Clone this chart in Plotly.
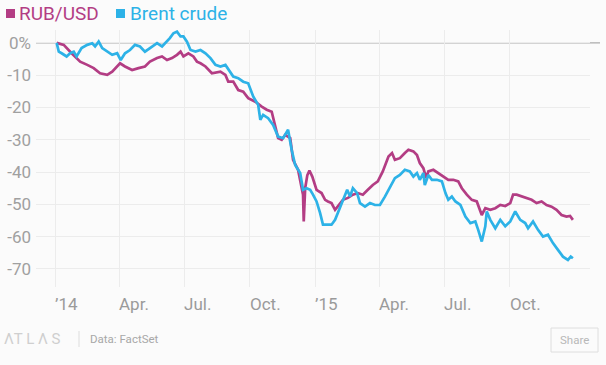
import plotly.graph_objects as go

# ---------------- data ----------------
rub_dates = ["2014-01-03","2014-01-13","2014-01-24","2014-02-05","2014-02-15","2014-02-24","2014-03-05","2014-03-15",
             "2014-03-22","2014-03-29","2014-04-02","2014-04-09","2014-04-19","2014-04-28","2014-05-07","2014-05-14",
             "2014-05-24","2014-05-31","2014-06-07","2014-06-14","2014-06-21","2014-06-26","2014-06-30","2014-07-07",
             "2014-07-14","2014-07-19","2014-07-24","2014-07-31","2014-08-09","2014-08-21","2014-08-28","2014-09-01",
             "2014-09-08","2014-09-15","2014-09-22","2014-09-29","2014-10-09","2014-10-18","2014-10-25","2014-11-01",
             "2014-11-06","2014-11-10","2014-11-15","2014-11-20","2014-11-27","2014-12-01","2014-12-08","2014-12-13",
             "2014-12-15","2014-12-16","2014-12-18","2014-12-21","2014-12-24","2014-12-28","2015-01-03","2015-01-10",
             "2015-01-15","2015-01-19","2015-01-24","2015-01-29","2015-02-02","2015-02-09","2015-02-16","2015-02-23",
             "2015-03-02","2015-03-09","2015-03-16","2015-03-23","2015-03-30","2015-04-06","2015-04-14","2015-04-19",
             "2015-04-23","2015-04-30","2015-05-07","2015-05-12","2015-05-19","2015-05-24","2015-05-28","2015-06-02",
             "2015-06-06","2015-06-09","2015-06-16","2015-06-23","2015-06-30","2015-07-07","2015-07-14","2015-07-21",
             "2015-07-26","2015-08-02","2015-08-09","2015-08-16","2015-08-23","2015-08-28","2015-09-04","2015-09-11",
             "2015-09-18","2015-09-25","2015-10-02","2015-10-06","2015-10-11","2015-10-18","2015-10-25","2015-11-01",
             "2015-11-08","2015-11-15","2015-11-22","2015-11-29","2015-12-06","2015-12-13","2015-12-20","2015-12-25",
             "2015-12-29"]
rub_values = [0.0,-0.6,-3.2,-5.8,-6.8,-7.8,-9.4,-9.9,
              -8.9,-7.3,-6.3,-7.3,-8.4,-7.8,-7.3,-5.8,
              -4.7,-4.2,-5.3,-4.7,-3.7,-2.7,-4.2,-3.2,
              -4.2,-5.8,-6.3,-7.3,-9.4,-8.9,-9.9,-12.0,
              -12.0,-14.6,-15.1,-17.1,-18.2,-19.7,-20.7,-21.3,
              -26.3,-29.5,-30.0,-28.5,-29.5,-36.2,-39.3,-44.5,
              -47.0,-55.3,-45.0,-41.0,-39.5,-41.4,-45.5,-46.5,
              -48.6,-49.1,-49.6,-51.7,-50.7,-48.6,-48.0,-47.0,
              -46.5,-47.0,-45.5,-44.0,-42.9,-39.8,-35.2,-34.1,
              -36.2,-35.7,-34.1,-33.1,-33.6,-34.7,-37.2,-38.8,
              -41.9,-39.8,-39.3,-40.3,-41.4,-42.4,-42.4,-42.9,
              -45.0,-47.0,-48.6,-49.1,-53.3,-51.2,-51.7,-51.2,
              -50.2,-50.5,-49.6,-47.0,-47.0,-47.6,-48.1,-48.6,
              -49.6,-49.1,-50.2,-50.7,-51.7,-53.3,-53.8,-53.6,
              -54.8]

brent_dates = ["2014-01-03","2014-01-06","2014-01-10","2014-01-17","2014-01-22","2014-01-27","2014-01-31","2014-02-07",
               "2014-02-15","2014-02-22","2014-02-26","2014-03-03","2014-03-08","2014-03-15","2014-03-22","2014-03-29",
               "2014-04-03","2014-04-09","2014-04-16","2014-04-23","2014-04-30","2014-05-07","2014-05-14","2014-05-24",
               "2014-05-31","2014-06-07","2014-06-11","2014-06-16","2014-06-21","2014-06-26","2014-06-30","2014-07-05",
               "2014-07-10","2014-07-17","2014-07-24","2014-07-31","2014-08-07","2014-08-14","2014-08-21","2014-08-28",
               "2014-09-04","2014-09-08","2014-09-15","2014-09-22","2014-09-29","2014-10-06","2014-10-13","2014-10-16",
               "2014-10-20","2014-10-27","2014-11-03","2014-11-10","2014-11-17","2014-11-24","2014-11-29","2014-12-04",
               "2014-12-11","2014-12-15","2014-12-20","2014-12-25","2014-12-29","2015-01-03","2015-01-08","2015-01-12",
               "2015-01-19","2015-01-24","2015-01-29","2015-02-05","2015-02-09","2015-02-15","2015-02-19","2015-02-23",
               "2015-03-01","2015-03-05","2015-03-12","2015-03-19","2015-03-26","2015-04-02","2015-04-09","2015-04-16",
               "2015-04-23","2015-04-30","2015-05-07","2015-05-14","2015-05-19","2015-05-24","2015-05-28","2015-06-02",
               "2015-06-04","2015-06-09","2015-06-14","2015-06-21","2015-06-28","2015-07-03","2015-07-07","2015-07-12",
               "2015-07-17","2015-07-24","2015-07-31","2015-08-07","2015-08-14","2015-08-18","2015-08-23","2015-08-28",
               "2015-08-30","2015-09-04","2015-09-11","2015-09-18","2015-09-25","2015-10-02","2015-10-09","2015-10-16",
               "2015-10-23","2015-10-27","2015-11-03","2015-11-10","2015-11-17","2015-11-24","2015-12-01","2015-12-08",
               "2015-12-15","2015-12-22","2015-12-26","2015-12-29"]
brent_values = [0.0,-2.7,-3.2,-4.2,-3.2,-2.7,-4.2,-1.6,
                -0.6,-0.1,-1.1,0.4,-1.6,-2.7,-3.7,-3.2,
                -5.3,-3.2,-2.2,-0.6,-1.1,-2.7,-1.6,-0.1,
                -1.1,0.4,1.5,3.0,3.5,2.0,2.0,0.4,
                -2.2,-2.7,-2.2,-3.2,-4.7,-6.8,-7.3,-6.8,
                -8.9,-10.4,-10.9,-12.0,-12.5,-16.6,-19.2,-23.8,
                -22.3,-23.3,-25.4,-29.0,-29.5,-26.9,-33.1,-37.8,
                -40.3,-45.5,-45.0,-45.5,-47.0,-49.1,-52.7,-56.3,
                -56.3,-56.3,-54.8,-50.7,-48.6,-45.5,-47.6,-45.0,
                -46.5,-49.6,-50.7,-49.6,-50.2,-50.2,-47.6,-44.5,
                -41.9,-40.9,-39.3,-39.8,-41.4,-40.3,-42.4,-40.3,
                -44.0,-40.9,-42.4,-42.4,-42.9,-46.5,-48.6,-47.6,
                -49.1,-50.2,-53.8,-55.8,-55.3,-57.9,-61.5,-56.8,
                -52.2,-54.8,-57.4,-54.8,-56.8,-55.3,-52.2,-54.8,
                -55.8,-57.4,-55.3,-57.9,-60.0,-59.4,-62.0,-64.1,
                -66.2,-67.2,-66.2,-66.7]

series_names = ["RUB/USD", "Brent crude"]
x_tick_dates = ["2014-01-01","2014-04-01","2014-07-01","2014-10-01","2015-01-01","2015-04-01","2015-07-01","2015-10-01"]
x_tick_labels = ["\u201914","Apr.","Jul.","Oct.","\u201915","Apr.","Jul.","Oct."]
y_tick_vals = [0,-10,-20,-30,-40,-50,-60,-70]
y_tick_labels = ["0%","-10","-20","-30","-40","-50","-60","-70"]
source_text = "Data: FactSet"

# ---------------- style ----------------
RUB_COLOR = "#b33d84"
BRENT_COLOR = "#2db2e7"
BG = "#fbfbfb"
FONT = "Roboto, Arial, sans-serif"
W, H = 606, 365
ML, MR, MT, MB = 36, 16, 30, 78

fig = go.Figure()
fig.add_trace(go.Scatter(x=rub_dates, y=rub_values, mode="lines", name=series_names[0],
                         line=dict(color=RUB_COLOR, width=2.7), showlegend=False))
fig.add_trace(go.Scatter(x=brent_dates, y=brent_values, mode="lines", name=series_names[1],
                         line=dict(color=BRENT_COLOR, width=2.7), showlegend=False))

pw = W - ML - MR
ph = H - MT - MB

def px_x(p):  # paper x from pixel
    return (p - ML) / pw

def px_y(p):  # paper y from pixel
    return (H - MB - p) / ph

shapes = []
annotations = []

# zero line extends slightly beyond the plot
shapes.append(dict(type="line", xref="paper", yref="y", x0=0, x1=px_x(600), y0=0, y1=0,
                   line=dict(color="#ababab", width=1.3), layer="below"))

# legend squares + text
for name, col, sx, tx in [(series_names[0], RUB_COLOR, 6, 17),
                          (series_names[1], BRENT_COLOR, 116, 128)]:
    shapes.append(dict(type="rect", xref="paper", yref="paper",
                       x0=px_x(sx), x1=px_x(sx + 9), y0=px_y(18), y1=px_y(9),
                       fillcolor=col, line=dict(width=0)))
    annotations.append(dict(text=name, xref="paper", yref="paper", x=px_x(tx), y=px_y(13.5),
                            xanchor="left", yanchor="middle", showarrow=False,
                            font=dict(family=FONT, size=19, color=col)))

# x tick labels, left aligned at the tick
for d, lab in zip(x_tick_dates, x_tick_labels):
    annotations.append(dict(text=lab, xref="x", yref="paper", x=d, y=0, yshift=-17,
                            xanchor="left", yanchor="middle", showarrow=False, xshift=-2,
                            font=dict(family=FONT, size=17, color="#9a9a9a")))

# footer
annotations.append(dict(text="\u039bT L \u039b S", xref="paper", yref="paper", x=px_x(2), y=px_y(339),
                        xanchor="left", yanchor="middle", showarrow=False,
                        font=dict(family=FONT, size=15, color="#cfcfcf")))
shapes.append(dict(type="line", xref="paper", yref="paper", x0=px_x(79), x1=px_x(79),
                   y0=px_y(331), y1=px_y(347), line=dict(color="#dddddd", width=1)))
annotations.append(dict(text=source_text, xref="paper", yref="paper", x=px_x(88), y=px_y(339),
                        xanchor="left", yanchor="middle", showarrow=False,
                        font=dict(family=FONT, size=11.5, color="#a8a8a8")))
shapes.append(dict(type="rect", xref="paper", yref="paper", x0=px_x(551), x1=px_x(598),
                   y0=px_y(352), y1=px_y(328), line=dict(color="#dedede", width=1), fillcolor=BG))
annotations.append(dict(text="Share", xref="paper", yref="paper", x=px_x(574.5), y=px_y(340),
                        xanchor="center", yanchor="middle", showarrow=False,
                        font=dict(family=FONT, size=11.5, color="#b8b8b8")))

fig.update_layout(
    width=W, height=H,
    margin=dict(l=ML, r=MR, t=MT, b=MB, autoexpand=False),
    paper_bgcolor=BG, plot_bgcolor=BG,
    font=dict(family=FONT),
    shapes=shapes, annotations=annotations,
    xaxis=dict(range=["2013-12-05", "2016-01-22"], tickvals=x_tick_dates, showticklabels=False,
               showgrid=True, gridcolor="#ececec", gridwidth=1, zeroline=False, showline=False, ticks="",
               automargin=False),
    yaxis=dict(range=[-75.6, 4.0], tickvals=y_tick_vals, ticktext=y_tick_labels,
               showgrid=True, gridcolor="#ececec", gridwidth=1, zeroline=False, showline=False, ticks="",
               automargin=False, ticklabelstandoff=4,
               tickfont=dict(family=FONT, size=17, color="#a0a0a0")),
)

fig.write_html("out.html", config={"displayModeBar": False},
               post_script="document.body.style.margin='0px';document.body.style.background='%s';" % BG)
